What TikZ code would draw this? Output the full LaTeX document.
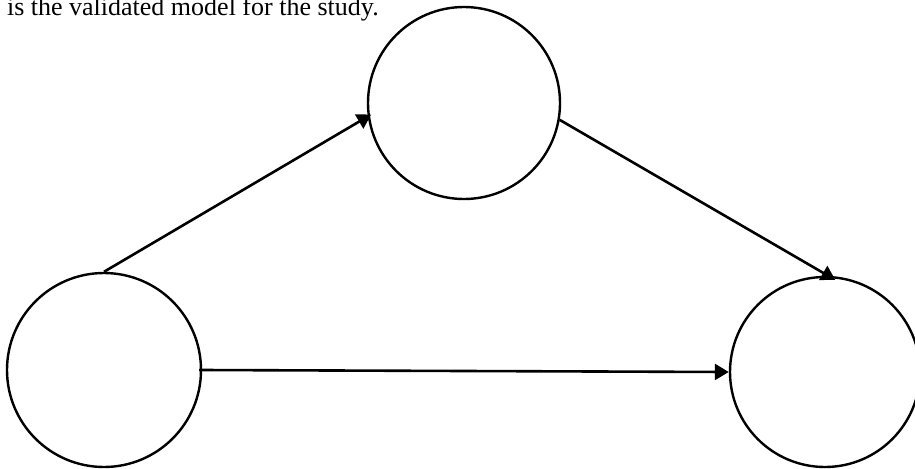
\documentclass[tikz,border=0pt]{standalone}
\usepackage{fontspec}
\setmainfont{Liberation Serif}
\usetikzlibrary{arrows.meta}

\begin{document}
\begin{tikzpicture}[x=0.5pt, y=0.5pt, every node/.style={font=\fontsize{13}{15}\selectfont},
  construct/.style={circle, draw, line width=1.2pt, inner sep=0pt},
  path/.style={-{Triangle[length=7pt, width=8pt]}, line width=1.3pt}]
  \useasboundingbox (0,0) rectangle (915,468);
  \clip (0,0) rectangle (915,468);

  \node[anchor=base west] (caption) at (0,453) {is the validated model for the study.};

  \node[construct, minimum size=97pt] (left) at (104,98) {};
  \node[construct, minimum size=96pt] (top) at (464,365) {};
  \node[construct, minimum size=95pt] (right) at (825,96) {};

  \draw[path, shorten >=-2pt] (left.north) -- (top.188);
  \draw[path, shorten >=-4pt] (top.-10) -- (right.88);
  \draw[path, shorten <=-1.5pt] (left.east) -- (right.west);
\end{tikzpicture}
\end{document}
